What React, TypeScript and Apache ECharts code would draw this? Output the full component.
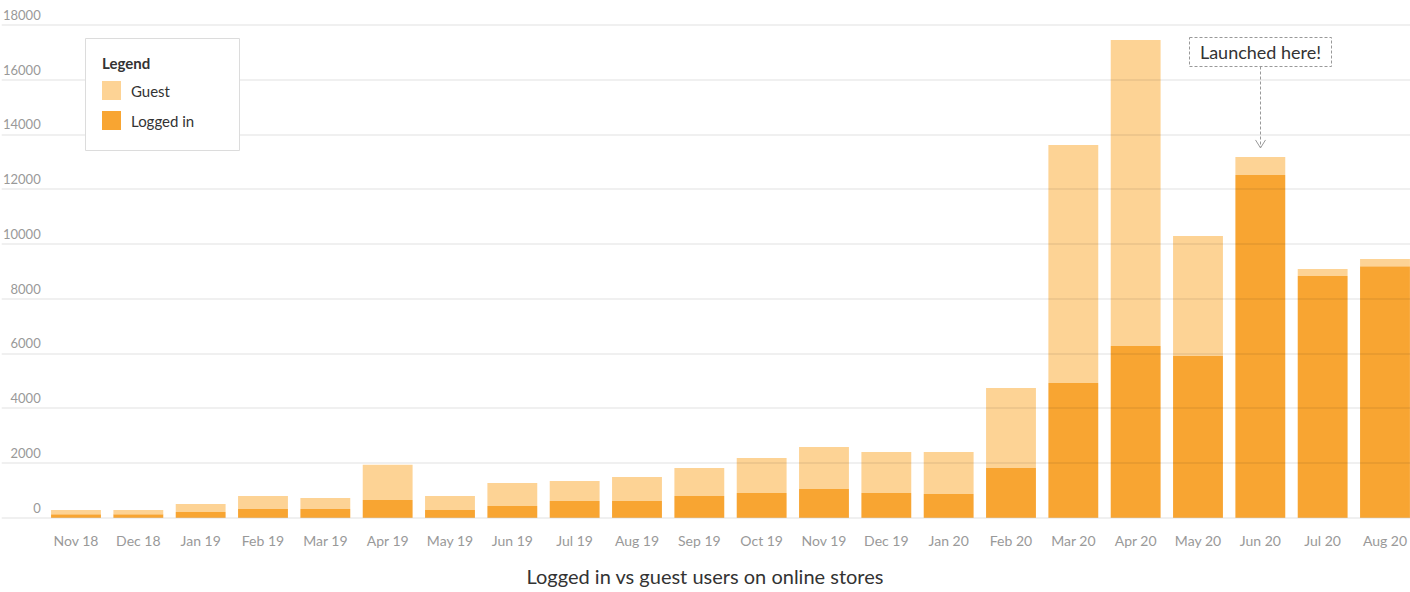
import React, { useEffect, useRef } from "react";
import * as echarts from "echarts";

const categories = [
  "Nov 18", "Dec 18", "Jan 19", "Feb 19", "Mar 19", "Apr 19", "May 19", "Jun 19",
  "Jul 19", "Aug 19", "Sep 19", "Oct 19", "Nov 19", "Dec 19", "Jan 20", "Feb 20",
  "Mar 20", "Apr 20", "May 20", "Jun 20", "Jul 20", "Aug 20",
];
const loggedIn = [130, 130, 210, 320, 320, 650, 280, 430, 610, 610, 790, 900, 1050, 900, 870, 1820, 4920, 6270, 5910, 12520, 8830, 9190];
const guest = [150, 150, 290, 470, 400, 1280, 510, 840, 730, 880, 1030, 1280, 1530, 1500, 1530, 2920, 8700, 11180, 4380, 660, 260, 260];
const yTicks = [0, 2000, 4000, 6000, 8000, 10000, 12000, 14000, 16000, 18000];
const annotationCategory = "Jun 20";
const annotationText = "Launched here!";
const titleText = "Logged in vs guest users on online stores";

const FONT = "Lato, 'Source Sans Pro', sans-serif";
const GUEST_COLOR = "#fdd395";
const LOGGED_COLOR = "#f8a532";

export default function App() {
  const ref = useRef<HTMLDivElement>(null);
  useEffect(() => {
    if (!ref.current) return;
    const chart = echarts.init(ref.current, null, { renderer: "svg" });
    const yMax = yTicks[yTicks.length - 1];
    const option: any = {
      animation: false,
      textStyle: { fontFamily: FONT },
      title: {
        text: titleText,
        left: 705,
        textAlign: "center",
        top: 566,
        padding: 0,
        textStyle: { fontFamily: FONT, fontSize: 20, fontWeight: "normal", color: "#333" },
      },
      legend: {
        data: ["Guest", "Logged in"],
        orient: "vertical",
        left: 102,
        top: 81,
        padding: 0,
        itemWidth: 19,
        itemHeight: 19,
        itemGap: 11,
        icon: "rect",
        z: 8,
        selectedMode: false,
        textStyle: { fontFamily: FONT, fontSize: 15, color: "#333", padding: [0, 0, 0, 5] },
      },
      grid: [
        { left: 0, width: 1410, top: 25, bottom: 74.3, containLabel: false },
        { left: 44.83, width: 1371.33, top: 25, bottom: 74.3, containLabel: false },
      ],
      xAxis: [
        { type: "value", gridIndex: 0, show: false, min: 0, max: 1 },
        {
          type: "category",
          gridIndex: 1,
          data: categories,
          axisLine: { show: false },
          axisTick: { show: false },
          axisLabel: { fontFamily: FONT, fontSize: 14, color: "#999", margin: 16 },
        },
      ],
      yAxis: [
        {
          type: "value",
          gridIndex: 0,
          min: 0,
          max: yMax,
          interval: 2000,
          z: 3,
          axisLine: { show: false },
          axisTick: { show: false },
          splitLine: { show: true, lineStyle: { color: "rgba(0,0,0,0.08)", width: 1.5 } },
          axisLabel: {
            inside: true,
            margin: 39,
            align: "right",
            verticalAlign: "bottom",
            lineHeight: 14,
            padding: [0, 0, 3, 0],
            fontFamily: FONT,
            fontSize: 13,
            color: "#999",
            formatter: (v: number) => String(v),
          },
        },
        { type: "value", gridIndex: 1, min: 0, max: yMax, show: false },
      ],
      series: [
        {
          name: "Logged in",
          type: "bar",
          stack: "users",
          xAxisIndex: 1,
          yAxisIndex: 1,
          data: loggedIn,
          barCategoryGap: "20%",
          itemStyle: { color: LOGGED_COLOR },
        },
        {
          name: "Guest",
          type: "bar",
          stack: "users",
          xAxisIndex: 1,
          yAxisIndex: 1,
          data: guest,
          barCategoryGap: "20%",
          itemStyle: { color: GUEST_COLOR },
        },
      ],
    };
    chart.setOption(option);

    const idx = categories.indexOf(annotationCategory);
    const total = loggedIn[idx] + guest[idx];
    const pt = chart.convertToPixel({ gridIndex: 1 } as any, [annotationCategory, total]) as number[];
    const ax = Math.round(pt[0]) + 0.5;
    const tipY = pt[1] - 9;
    const boxTop = 37.5;
    const boxH = 29;
    const boxW = 142;

    chart.setOption({
      graphic: [
        {
          type: "rect",
          z: 6,
          shape: { x: 85.5, y: 38.5, width: 154, height: 112 },
          style: { fill: "#fff", stroke: "#dcdcdc", lineWidth: 1 },
        },
        {
          type: "text",
          z: 7,
          x: 102,
          y: 63,
          style: {
            text: "Legend",
            fontFamily: FONT,
            fontSize: 15,
            fontWeight: "bold",
            fill: "#333",
            verticalAlign: "middle",
          },
        },
        {
          type: "rect",
          z: 6,
          shape: { x: ax - boxW / 2, y: boxTop, width: boxW, height: boxH },
          style: { fill: "#fff", stroke: "#999", lineWidth: 1, lineDash: [3, 2] },
        },
        {
          type: "text",
          z: 7,
          x: ax,
          y: boxTop + boxH / 2,
          style: {
            text: annotationText,
            fontFamily: FONT,
            fontSize: 18,
            fill: "#333",
            align: "center",
            verticalAlign: "middle",
          },
        },
        {
          type: "line",
          z: 6,
          shape: { x1: ax, y1: boxTop + boxH, x2: ax, y2: tipY },
          style: { stroke: "#999", lineWidth: 1, lineDash: [3, 2] },
        },
        {
          type: "polyline",
          z: 6,
          shape: { points: [[ax - 5, tipY - 8], [ax, tipY], [ax + 5, tipY - 8]] },
          style: { stroke: "#999", lineWidth: 1, fill: null },
        },
      ],
    });

    return () => chart.dispose();
  }, []);
  return (
    <div style={{ position: "absolute", left: 0, top: 0, width: 1410, height: 592, overflow: "hidden" }}>
      <div ref={ref} style={{ width: 1420, height: 592 }} />
    </div>
  );
}
